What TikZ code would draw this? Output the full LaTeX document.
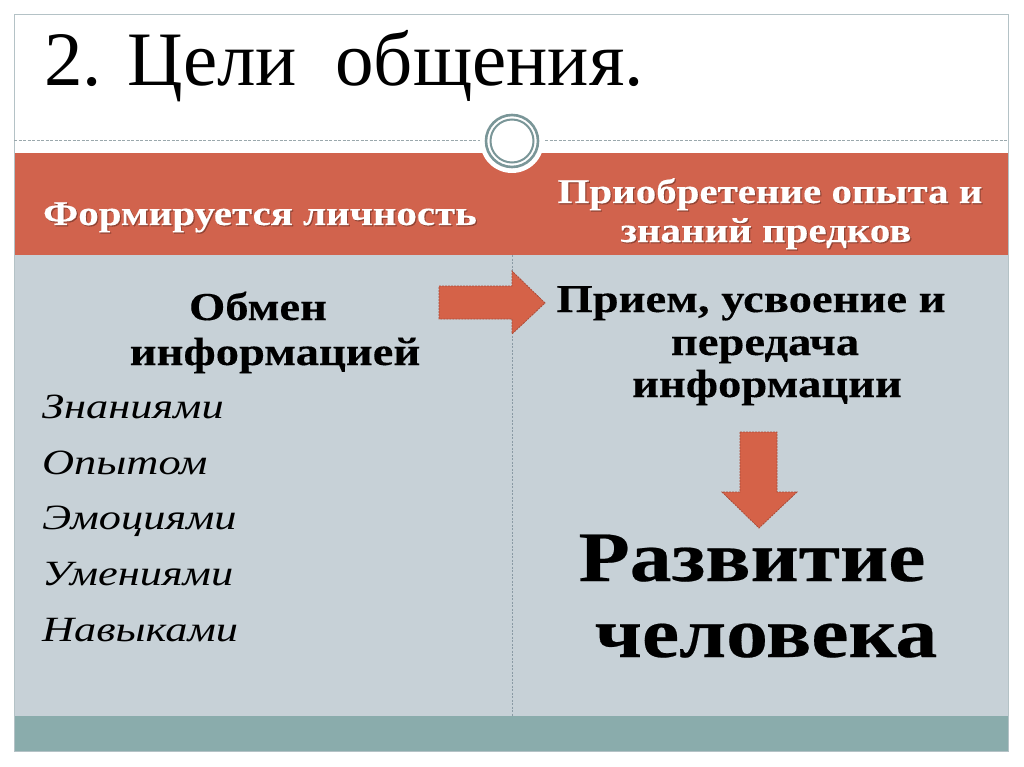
\documentclass[tikz,border=0pt]{standalone}
\usepackage{fontspec}
\setmainfont{Liberation Serif}
\newfontfamily\titlefont{Liberation Serif}
\newfontfamily\gb[FakeStretch=1.18,FakeBold=0.3]{Liberation Serif}
\newfontfamily\gi[FakeStretch=1.25]{Liberation Serif}
\definecolor{band}{HTML}{D1634D}
\definecolor{bodygray}{HTML}{C7D1D7}
\definecolor{tealbar}{HTML}{8AACAC}
\definecolor{framecol}{HTML}{B4C2C6}
\definecolor{ringcol}{HTML}{7A9698}
\definecolor{dashcol}{HTML}{9AA8AC}
\definecolor{divcol}{HTML}{8A9AA4}
\definecolor{arrowfill}{HTML}{D56248}
\definecolor{arrowedge}{HTML}{AA4B37}
\tikzset{
  titletext/.style={anchor=base west, inner sep=0, font=\titlefont\fontsize{77}{82}\selectfont},
  headtext/.style={anchor=base, inner sep=0, text=white, font=\gb\bfseries\fontsize{34.7}{40}\selectfont},
  headshadow/.style={anchor=base, inner sep=0, text=black, opacity=0.28, font=\gb\bfseries\fontsize{34.7}{40}\selectfont},
  boldtext/.style={anchor=base, inner sep=0, font=\gb\bfseries\fontsize{39.5}{44}\selectfont},
  bigtext/.style={anchor=base, inner sep=0, font=\gb\bfseries\fontsize{71}{76}\selectfont},
  listtext/.style={anchor=base west, inner sep=0, font=\gi\itshape\fontsize{35.5}{40}\selectfont},
  blockarrow/.style={fill=arrowfill, draw=arrowedge, line width=0.8pt, dash pattern=on 2pt off 1pt}
}
\begin{document}
\begin{tikzpicture}[x=1pt,y=-1pt]
\useasboundingbox (0,0) rectangle (1024,767);
\fill[white] (0,0) rectangle (1024,767);
% panels
\fill[bodygray] (14,255) rectangle (1008,716);
\fill[band] (14,153) rectangle (1008,255);
\fill[tealbar] (14,716) rectangle (1008,751);
\draw[framecol, line width=1pt] (14,15) rectangle (1008,751);
% dashed separator and medallion
\draw[dashcol, line width=1pt, dash pattern=on 3pt off 1.5pt] (14,141) -- (1008,141);
\fill[white] (512,141) circle (32);
\draw[ringcol, line width=2.6pt] (512,141) circle (26);
\draw[ringcol, line width=2pt] (512,141) circle (21.5);
% column divider
\draw[divcol, line width=0.8pt, dash pattern=on 2pt off 1.5pt] (512,255) -- (512,716);
% title
\node[titletext] (title) at (44,86) {2. Цели\hspace{0.5em}общения.};
% headers
\node[headshadow] (h1s) at (261.2,226.2) {Формируется личность};
\node[headtext] (h1) at (260,225) {Формируется личность};
\node[headshadow] (h2as) at (771.2,204.2) {Приобретение опыта и};
\node[headtext] (h2a) at (770,203) {Приобретение опыта и};
\node[headshadow] (h2bs) at (767.2,243.2) {знаний предков};
\node[headtext] (h2b) at (766,242) {знаний предков};
% left column
\node[boldtext] (l1) at (258,320) {Обмен};
\node[boldtext] (l2) at (275,365) {информацией};
\node[listtext] (i1) at (42,418) {Знаниями};
\node[listtext] (i2) at (42,474) {Опытом};
\node[listtext] (i3) at (42,529) {Эмоциями};
\node[listtext] (i4) at (42,585) {Умениями};
\node[listtext] (i5) at (42,641) {Навыками};
% right column
\node[boldtext] (r1) at (751,312) {Прием, усвоение и};
\node[boldtext] (r2) at (765,355) {передача};
\node[boldtext] (r3) at (767,397) {информации};
\node[bigtext] (b1) at (752,581) {Развитие};
\node[bigtext] (b2) at (766,657) {человека};
% block arrows
\draw[blockarrow] (439,286) -- (512,286) -- (512,271) -- (545,303) -- (512,334) -- (512,319) -- (439,319) -- cycle;
\draw[blockarrow] (740,432) -- (777,432) -- (777,492) -- (797,492) -- (759,528) -- (722,492) -- (740,492) -- cycle;
\end{tikzpicture}
\end{document}
